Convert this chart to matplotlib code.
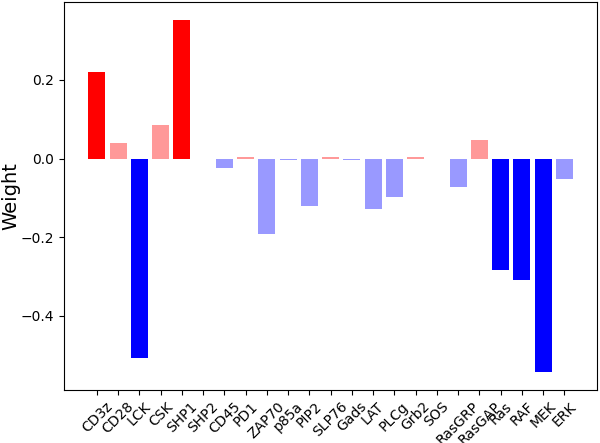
import matplotlib
matplotlib.use("Agg")
import matplotlib.pyplot as plt
import numpy as np

categories = ["CD3z", "CD28", "LCK", "CSK", "SHP1", "SHP2", "CD45", "PD1", "ZAP70",
              "p85a", "PIP2", "SLP76", "Gads", "LAT", "PLCg", "Grb2", "SOS",
              "RasGRP", "RasGAP", "Ras", "RAF", "MEK", "ERK"]
weights = [0.221, 0.040, -0.507, 0.086, 0.353, 0.0, -0.025, 0.003, -0.193,
           -0.005, -0.120, 0.003, -0.003, -0.128, -0.097, 0.003, -0.002,
           -0.073, 0.047, -0.285, -0.308, -0.544, -0.053]

def bar_color(w):
    if w >= 0:
        return (1.0, 0.0, 0.0) if abs(w) >= 0.2 else (1.0, 0.6, 0.6)
    return (0.0, 0.0, 1.0) if abs(w) >= 0.2 else (0.6, 0.6, 1.0)

colors = [bar_color(w) for w in weights]

fig = plt.figure(figsize=(6, 4.43), dpi=100)
ax = fig.add_axes([0.107, 0.12, 0.888, 0.875])
x = np.arange(len(categories))
ax.bar(x, weights, width=0.8, color=colors)
ax.set_xticks(x)
ax.set_xticklabels(categories, rotation=45, fontsize=10)
ax.tick_params(axis='y', labelsize=10)
ax.set_yticks([-0.4, -0.2, 0.0, 0.2])
ax.set_ylabel("Weight", fontsize=14)
ax.yaxis.set_label_coords(-0.083, 0.5)
fig.savefig("out.png", dpi=100)
